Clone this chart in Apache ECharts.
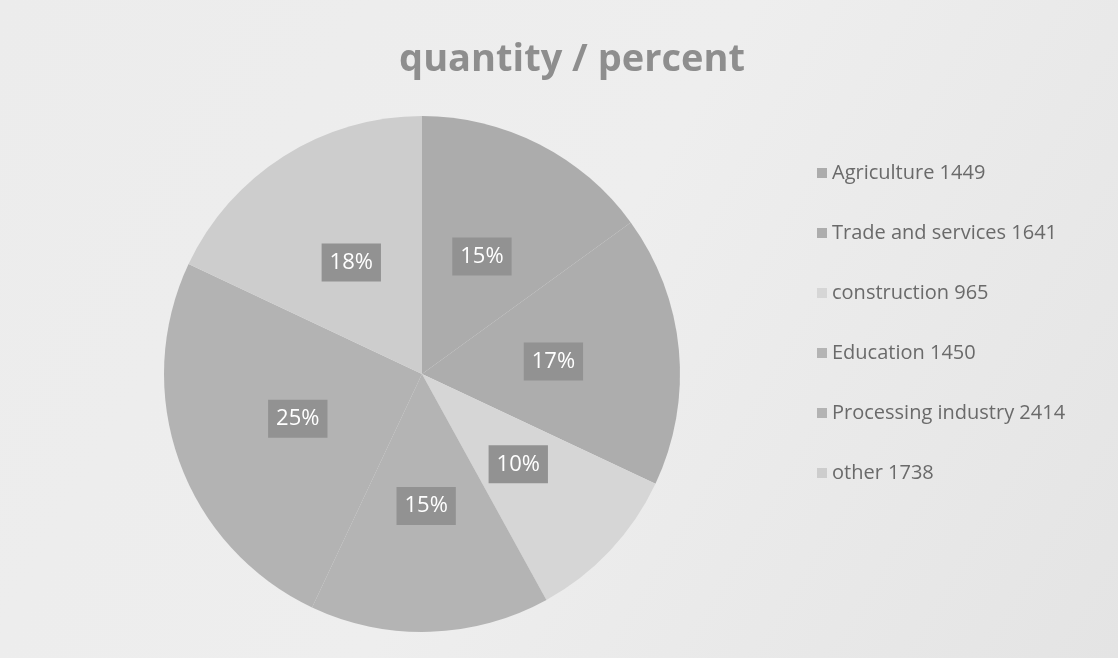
<!DOCTYPE html>
<html><head><meta charset="utf-8">
<script src="https://cdn.jsdelivr.net/npm/echarts@6/dist/echarts.min.js"></script>
<style>html,body{margin:0;padding:0;}#c{width:1118px;height:658px;}</style>
</head><body><div id="c"></div>
<script>
const categories = ['Agriculture', 'Trade and services', 'construction', 'Education', 'Processing industry', 'other'];
const values = [1449, 1641, 965, 1450, 2414, 1738];
const colors = ['#acacac', '#adadad', '#d6d6d6', '#b4b4b4', '#b3b3b3', '#cdcdcd'];

const chart = echarts.init(document.getElementById('c'));
chart.setOption({
  backgroundColor: {
    type: 'linear', x: 0, y: 0, x2: 1, y2: 1,
    colorStops: [{offset: 0, color: '#ececec'}, {offset: 0.5, color: '#eeeeee'}, {offset: 1, color: '#e4e4e4'}]
  },
  title: {
    text: 'quantity / percent', left: 567, top: 36, textAlign: 'center',
    textStyle: {fontFamily: 'Open Sans', fontSize: 38, fontWeight: 'bold', color: '#8e8e8e'}
  },
  legend: {
    orient: 'vertical', left: 812, top: 158, itemGap: 40,
    itemWidth: 10, itemHeight: 10, icon: 'rect',
    formatter: function (name) { return name + ' ' + values[categories.indexOf(name)]; },
    textStyle: {fontFamily: 'Open Sans', fontSize: 20, color: '#6a6a6a'}
  },
  series: [{
    type: 'pie', center: [422, 374], radius: 258, startAngle: 90, clockwise: true,
    silent: true,
    data: categories.map((c, i) => ({name: c, value: values[i], itemStyle: {color: colors[i]}})),
    label: {
      position: 'inside', formatter: function (p) { return Math.round(p.percent) + '%'; },
      fontFamily: 'Open Sans', fontSize: 22, color: '#ffffff',
      backgroundColor: '#929292', padding: [8, 8]
    },
    labelLine: {show: false}
  }]
});
</script></body></html>
